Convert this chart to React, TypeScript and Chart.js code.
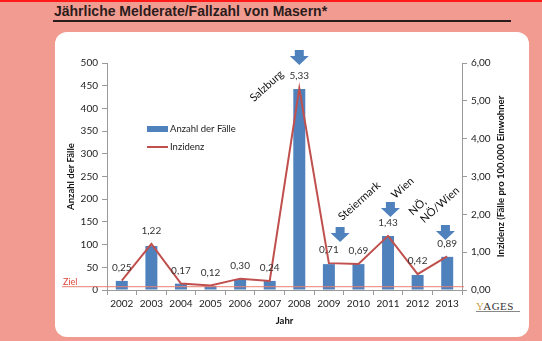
import React, { useEffect, useRef } from "react";
import { Chart, registerables } from "chart.js";

Chart.register(...registerables);

const years = ["2002", "2003", "2004", "2005", "2006", "2007", "2008", "2009", "2010", "2011", "2012", "2013"];
const cases = [20, 97, 14, 9, 24, 20, 443, 57, 57, 119, 33, 73];
const incidence = [0.25, 1.22, 0.17, 0.12, 0.3, 0.24, 5.33, 0.71, 0.69, 1.43, 0.42, 0.89];
const zielValue = 0.1;
// arrows: category position and tip value on the incidence axis
const arrowPos = [6.0, 7.38, 9.08, 10.94];
const arrowTip = [5.95, 1.27, 1.93, 1.32];
// rotated region labels: text, category position, incidence-axis value
const regionText = ["Salzburg", "Steiermark", "Wien", "NÖ,", "NÖ/Wien"];
const regionPos = [4.9, 8.03, 9.49, 10.0, 10.75];
const regionVal = [5.39, 2.35, 2.7, 2.2, 2.25];

const BLUE = "#4F81BD";
const RED = "#C0504D";
const FONT = "Lato, 'Open Sans', sans-serif";
const fmt = (v: number) => v.toFixed(2).replace(".", ",");

export default function App() {
  const ref = useRef<HTMLCanvasElement | null>(null);

  useEffect(() => {
    if (!ref.current) return;
    const annot = {
      id: "annot",
      afterDatasetsDraw(chart: any) {
        const { ctx, chartArea } = chart;
        const x = chart.scales.x;
        const y1 = chart.scales.y1;
        ctx.save();
        // Ziel line
        const yz = y1.getPixelForValue(zielValue);
        ctx.strokeStyle = "#EC7F70";
        ctx.lineWidth = 1;
        ctx.beginPath();
        ctx.moveTo(62, yz + 0.5);
        ctx.lineTo(chartArea.right + 2, yz + 0.5);
        ctx.stroke();
        ctx.fillStyle = "#E0483A";
        ctx.font = `9px ${FONT}`;
        ctx.textAlign = "left";
        ctx.textBaseline = "bottom";
        ctx.fillText("Ziel", 63, yz);

        // value labels
        ctx.fillStyle = "#333";
        ctx.font = `10px ${FONT}`;
        ctx.textAlign = "center";
        ctx.textBaseline = "middle";
        incidence.forEach((v, i) => {
          ctx.fillText(fmt(v), x.getPixelForValue(i), y1.getPixelForValue(v) - 13);
        });

        // arrows
        arrowPos.forEach((p, i) => {
          const cx = x.getPixelForValue(p);
          const ty = y1.getPixelForValue(arrowTip[i]);
          const h = 15, sh = 6, hw = 9.5, sw = 4.5;
          ctx.fillStyle = BLUE;
          ctx.beginPath();
          ctx.moveTo(cx - sw, ty - h);
          ctx.lineTo(cx + sw, ty - h);
          ctx.lineTo(cx + sw, ty - h + sh);
          ctx.lineTo(cx + hw, ty - h + sh);
          ctx.lineTo(cx, ty);
          ctx.lineTo(cx - hw, ty - h + sh);
          ctx.lineTo(cx - sw, ty - h + sh);
          ctx.closePath();
          ctx.fill();
        });

        // rotated region labels
        ctx.fillStyle = "#111";
        ctx.font = `11px ${FONT}`;
        regionText.forEach((t, i) => {
          const px = x.getPixelForValue(regionPos[i]);
          const py = y1.getPixelForValue(regionVal[i]);
          ctx.save();
          ctx.translate(px, py);
          ctx.rotate(-Math.PI / 4.3);
          ctx.textAlign = "center";
          ctx.textBaseline = "middle";
          ctx.fillText(t, 0, 0);
          ctx.restore();
        });

        // legend
        const lx = chartArea.left + 40;
        const ly1 = chartArea.top + 66;
        const ly2 = chartArea.top + 84;
        ctx.fillStyle = BLUE;
        ctx.fillRect(lx, ly1 - 3, 21, 6);
        ctx.strokeStyle = RED;
        ctx.lineWidth = 2;
        ctx.beginPath();
        ctx.moveTo(lx, ly2);
        ctx.lineTo(lx + 21, ly2);
        ctx.stroke();
        ctx.fillStyle = "#222";
        ctx.font = `9.5px ${FONT}`;
        ctx.textAlign = "left";
        ctx.textBaseline = "middle";
        ctx.fillText("Anzahl der Fälle", lx + 23, ly1);
        ctx.fillText("Inzidenz", lx + 23, ly2);

        // axis titles
        const cy = (chartArea.top + chartArea.bottom) / 2;
        ctx.font = `bold 9.5px ${FONT}`;
        ctx.fillStyle = "#111";
        ctx.textAlign = "center";
        ctx.save();
        ctx.translate(71, cy);
        ctx.rotate(-Math.PI / 2);
        ctx.fillText("Anzahl der Fälle", 0, 0);
        ctx.restore();
        ctx.save();
        ctx.translate(501, cy);
        ctx.rotate(-Math.PI / 2);
        ctx.fillText("Inzidenz (Fälle pro 100.000 Einwohner", 0, 0);
        ctx.restore();
        ctx.fillText("Jahr", (chartArea.left + chartArea.right) / 2, 321);
        ctx.restore();
      },
    };

    const tickFont = { family: FONT, size: 10 };
    const chart = new Chart(ref.current, {
      type: "bar",
      data: {
        labels: years,
        datasets: [
          {
            type: "line",
            label: "Inzidenz",
            data: incidence,
            yAxisID: "y1",
            borderColor: RED,
            borderWidth: 2,
            pointRadius: 0,
            tension: 0,
            order: 1,
          } as any,
          {
            type: "bar",
            label: "Anzahl der Fälle",
            data: cases,
            yAxisID: "y",
            backgroundColor: BLUE,
            barPercentage: 0.45,
            categoryPercentage: 0.9,
            order: 2,
          },
        ],
      },
      options: {
        responsive: false,
        animation: false,
        layout: { padding: { left: 60, right: 32, top: 63, bottom: 12 } },
        plugins: { legend: { display: false }, tooltip: { enabled: false } },
        scales: {
          x: {
            grid: { display: true, drawOnChartArea: false, tickLength: 5, color: "#9a9a9a", offset: true },
            border: { color: "#9a9a9a" },
            ticks: { font: tickFont, color: "#222", padding: 3 },
            afterFit: (s: any) => { s.height = 39; },
          },
          y: {
            position: "left",
            min: 0,
            max: 500,
            ticks: { stepSize: 50, font: tickFont, color: "#222", padding: 4 },
            grid: { display: true, drawOnChartArea: false, tickLength: 5, color: "#9a9a9a" },
            border: { color: "#9a9a9a" },
            afterFit: (s: any) => { s.width = 47; },
          },
          y1: {
            position: "right",
            min: 0,
            max: 6,
            ticks: { stepSize: 1, font: tickFont, color: "#222", padding: 4, callback: (v: any) => fmt(Number(v)) },
            grid: { display: true, drawOnChartArea: false, tickLength: 5, color: "#9a9a9a" },
            border: { color: "#9a9a9a" },
            afterFit: (s: any) => { s.width = 48; },
          },
        },
      },
      plugins: [annot],
    } as any);
    return () => chart.destroy();
  }, []);

  return (
    <div style={{ position: "fixed", left: 0, top: 0, width: 542, height: 341, background: "#F29B90", overflow: "hidden" }}>
      <div style={{ position: "absolute", left: 0, top: 0, width: 542, height: 2, background: "#FF1A1A" }} />
      <div
        style={{
          position: "absolute",
          left: 54,
          top: 3,
          font: "bold 14px 'Liberation Sans', Arial, sans-serif",
          color: "#2a1c1c",
          whiteSpace: "nowrap",
        }}
      >
        Jährliche Melderate/Fallzahl von Masern*
      </div>
      <div style={{ position: "absolute", left: 53, top: 20, width: 458, height: 1.5, background: "#2a1c1c" }} />
      <div style={{ position: "absolute", left: 55, top: 32, width: 474, height: 305, background: "#fff", borderRadius: 12 }} />
      <div
        style={{
          position: "absolute",
          left: 476,
          top: 300,
          font: "11px 'Liberation Serif', serif",
          color: "#333",
          letterSpacing: 0.5,
        }}
      >
        <span style={{ color: "#c9a24a" }}>Y</span>AGES
        <div style={{ height: 1, width: 44, background: "#888", marginTop: -1 }} />
      </div>
      <canvas ref={ref} width={542} height={341} style={{ position: "absolute", left: 0, top: 0 }} />
    </div>
  );
}
